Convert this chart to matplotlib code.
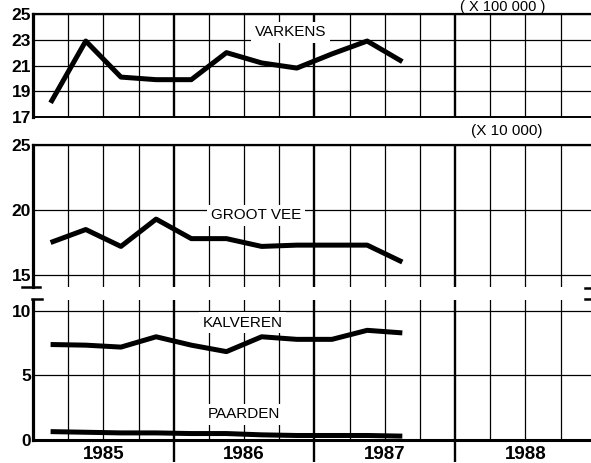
import numpy as np
import matplotlib as mpl
mpl.use("Agg")
import matplotlib.pyplot as plt
from matplotlib.lines import Line2D

# quarterly livestock counts
QUARTERS = [(1985, 1), (1985, 2), (1985, 3), (1985, 4), (1986, 1), (1986, 2),
            (1986, 3), (1986, 4), (1987, 1), (1987, 2), (1987, 3)]
VARKENS = [18.1, 22.9, 20.1, 19.9, 19.9, 22.0, 21.2, 20.8, 21.9, 22.9, 21.3]    # x 100 000
GROOT_VEE = [17.5, 18.5, 17.2, 19.3, 17.8, 17.8, 17.2, 17.3, 17.3, 17.3, 16.0]  # x 10 000
KALVEREN = [7.4, 7.35, 7.2, 8.0, 7.35, 6.85, 8.0, 7.8, 7.8, 8.5, 8.3]
PAARDEN = [0.65, 0.6, 0.55, 0.55, 0.5, 0.5, 0.4, 0.35, 0.35, 0.35, 0.3]
YEARS = [1985, 1986, 1987, 1988]
TICKS_TOP = [17, 19, 21, 23, 25]
TICKS_MID = [15, 20, 25]
TICKS_LOW = [0, 5, 10]

x = [y + (q - 0.5) / 4 for y, q in QUARTERS]

W, H = 591, 463
XLIM = (1985.0, 1988.966)
NARROW = ["Liberation Sans Narrow", "Liberation Sans", "DejaVu Sans"]
SANS = ["Liberation Sans", "DejaVu Sans"]

fig = plt.figure(figsize=(W / 100, H / 100), dpi=100)

def rect(top, bottom, left=33, right=W):
    return [left / W, 1 - bottom / H, (right - left) / W, (bottom - top) / H]

ax1 = fig.add_axes(rect(14, 117))
ax2 = fig.add_axes(rect(145, 287))
ax3 = fig.add_axes(rect(300, 440))

for ax, ticks, lim in [(ax1, TICKS_TOP, (17, 25)), (ax2, TICKS_MID, (14.08, 25)),
                       (ax3, TICKS_LOW, (0, 10.85))]:
    ax.set_xlim(*XLIM); ax.set_ylim(*lim)
    ax.set_yticks(ticks)
    ax.yaxis.grid(True, color="k", lw=0.9)
    for v in np.arange(1985.25, 1989, 0.25):
        ax.axvline(v, color="k", lw=1.7 if v == int(v) else 0.9, zorder=2)
    for s in ["top", "right", "bottom"]:
        ax.spines[s].set_visible(False)
    ax.spines["left"].set_linewidth(2.3)
    ax.tick_params(axis="y", length=0, pad=1.5)
    for lab in ax.get_yticklabels():
        lab.set_fontfamily(NARROW); lab.set_fontweight("bold"); lab.set_fontsize(12.5)
    ax.set_xticks([])

ax1.spines["top"].set_visible(True); ax1.spines["top"].set_linewidth(1.6)
ax1.spines["bottom"].set_visible(True); ax1.spines["bottom"].set_linewidth(1.4)
ax2.spines["top"].set_visible(True); ax2.spines["top"].set_linewidth(1.6)
ax3.spines["bottom"].set_visible(True); ax3.spines["bottom"].set_linewidth(2.2)

# year ticks below the bottom panel, labels centred in each year
ax3.set_xticks(YEARS[1:])
ax3.set_xticklabels([])
ax3.tick_params(axis="x", which="major", length=16, width=1.7, direction="out")
ax3.set_xticks([y + 0.5 for y in YEARS], minor=True)
ax3.set_xticklabels([str(y) for y in YEARS], minor=True, fontfamily=NARROW,
                    fontweight="bold", fontsize=13.5)
ax3.tick_params(axis="x", which="minor", length=0, pad=4)

kw = dict(color="k", lw=3.6, solid_joinstyle="round", solid_capstyle="butt", zorder=4)
ax1.plot(x, VARKENS, **kw)
ax2.plot(x, GROOT_VEE, **kw)
ax3.plot(x, KALVEREN, **kw)
ax3.plot(x, PAARDEN, **kw)

box = dict(fc="white", ec="none", pad=2.5)
tk = dict(ha="center", va="center", fontsize=11, family=SANS, bbox=box, zorder=3)
ax1.text(1986.83, 23.6, "VARKENS", **tk)
ax2.text(1986.585, 19.6, "GROOT VEE", **tk)
ax3.text(1986.49, 9.07, "KALVEREN", **tk)
ax3.text(1986.50, 2.0, "PAARDEN", **tk)

fig.text(503 / W, 1.0, "( X 100 000 )", ha="center", va="top", fontsize=10.5, family=SANS)
fig.text(507 / W, 1 - 131 / H, "(X 10 000)", ha="center", va="center", fontsize=11, family=SANS)

# axis break marks
for x0, x1, yp in [(22, 40, 287), (32, 42, 299), (585, 591, 288), (585, 591, 299)]:
    fig.add_artist(Line2D([x0 / W, x1 / W], [1 - yp / H] * 2, transform=fig.transFigure,
                          color="k", lw=1.8))

fig.savefig("out.png", dpi=100)
